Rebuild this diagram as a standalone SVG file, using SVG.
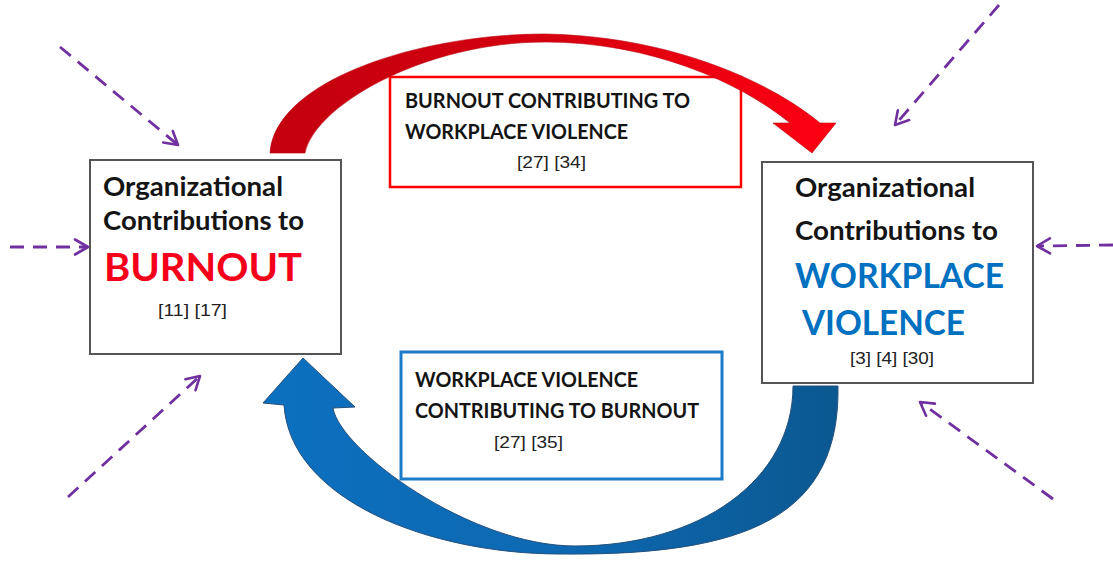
<svg xmlns="http://www.w3.org/2000/svg" width="1113" height="561" viewBox="0 0 1113 561">
  <defs>
    <linearGradient id="redGrad" gradientUnits="userSpaceOnUse" x1="270" y1="0" x2="840" y2="0">
      <stop offset="0" stop-color="#c3000f"/>
      <stop offset="0.5" stop-color="#d6000f"/>
      <stop offset="1" stop-color="#ff0012"/>
    </linearGradient>
    <linearGradient id="blueGrad" gradientUnits="userSpaceOnUse" x1="263" y1="0" x2="840" y2="0">
      <stop offset="0" stop-color="#0c70c0"/>
      <stop offset="0.55" stop-color="#0d68b0"/>
      <stop offset="1" stop-color="#0b5890"/>
    </linearGradient>
    <marker id="chev" markerUnits="userSpaceOnUse" viewBox="0 0 18 18" markerWidth="18" markerHeight="18" refX="15" refY="9" orient="auto">
      <path d="M2,1.5 L15,9 L2,16.5" fill="none" stroke="#7030a0" stroke-width="2.6" stroke-linecap="round" stroke-linejoin="round"/>
    </marker>
  </defs>
  <style>
    .box{fill:#fff;stroke:#555;stroke-width:2}
    .title{font-family:Lato,'Liberation Sans',sans-serif;font-weight:bold;fill:#141414;font-size:26.5px}
    .big{font-family:Lato,'Liberation Sans',sans-serif;font-weight:bold}
    .label{font-family:Lato,'Liberation Sans',sans-serif;font-weight:bold;fill:#141414;font-size:20.5px}
    .ref{font-family:'Liberation Sans',Arial,sans-serif;fill:#222;font-size:16.5px}
    .influence{fill:none;stroke:#7030a0;stroke-width:2.8;stroke-dasharray:14 9;marker-end:url(#chev)}
  </style>

  <rect width="1113" height="561" fill="#fff"/>

  <!-- burnout node -->
  <g id="burnout">
    <rect class="box" x="90" y="160" width="251" height="194"/>
    <text class="title" x="103" y="196" textLength="180" lengthAdjust="spacingAndGlyphs">Organizational</text>
    <text class="title" x="103" y="230" textLength="201" lengthAdjust="spacingAndGlyphs">Contributions to</text>
    <text class="big" x="104" y="281" font-size="37.5" fill="#f5001a" textLength="198" lengthAdjust="spacingAndGlyphs">BURNOUT</text>
    <text class="ref" x="158" y="316" textLength="69" lengthAdjust="spacingAndGlyphs">[11] [17]</text>
  </g>

  <!-- workplace violence node -->
  <g id="violence">
    <rect class="box" x="762" y="162" width="271" height="221"/>
    <text class="title" x="795" y="197" textLength="180" lengthAdjust="spacingAndGlyphs">Organizational</text>
    <text class="title" x="795" y="240" textLength="203" lengthAdjust="spacingAndGlyphs">Contributions to</text>
    <text class="big" x="795" y="288" font-size="35" fill="#0070c0" textLength="209" lengthAdjust="spacingAndGlyphs">WORKPLACE</text>
    <text class="big" x="802" y="335" font-size="34" fill="#0070c0" textLength="163" lengthAdjust="spacingAndGlyphs">VIOLENCE</text>
    <text class="ref" x="850" y="364" textLength="84" lengthAdjust="spacingAndGlyphs">[3] [4] [30]</text>
  </g>

  <!-- label: burnout feeding violence -->
  <g id="burnout-to-violence">
    <rect x="390" y="77" width="351" height="110" fill="#fff" stroke="#ff0000" stroke-width="2.5"/>
    <text class="label" x="405" y="108" textLength="285" lengthAdjust="spacingAndGlyphs">BURNOUT CONTRIBUTING TO</text>
    <text class="label" x="405" y="139" textLength="223" lengthAdjust="spacingAndGlyphs">WORKPLACE VIOLENCE</text>
    <text class="ref" x="517" y="168" textLength="69" lengthAdjust="spacingAndGlyphs">[27] [34]</text>
  </g>

  <!-- label: violence feeding burnout -->
  <g id="violence-to-burnout">
    <rect x="401" y="352" width="321" height="127" fill="#fff" stroke="#1a7bc9" stroke-width="3"/>
    <text class="label" x="415" y="387" textLength="223" lengthAdjust="spacingAndGlyphs">WORKPLACE VIOLENCE</text>
    <text class="label" x="415" y="418" textLength="284" lengthAdjust="spacingAndGlyphs">CONTRIBUTING TO BURNOUT</text>
    <text class="ref" x="494" y="448" textLength="69" lengthAdjust="spacingAndGlyphs">[27] [35]</text>
  </g>

  <!-- connectors -->
  <g id="connectors">
    <!-- burnout -> violence (curved block arrow over the top) -->
    <path d="M270,153 C275,80 420,34 545,34 C665,36 765,78 820,123 L836,123 L812,153 L773,123 L790,123 C740,82 650,42 545,42 C425,42 315,105 305,153 Z"
          fill="url(#redGrad)" stroke="#b8000e" stroke-width="0.6"/>
    <!-- violence -> burnout (curved block arrow under the bottom) -->
    <path d="M838,386 C840,515 750,556 560,554 C430,554 290,500 284,405 L263,403 L303,358 L355,407 L333,408 C340,450 470,546 575,546 C700,546 793,480 793,386 Z"
          fill="url(#blueGrad)" stroke="#24507c" stroke-width="1"/>

    <!-- outside influences on burnout -->
    <line class="influence" x1="60" y1="47" x2="178" y2="145"/>
    <line class="influence" x1="10" y1="247" x2="88" y2="247"/>
    <line class="influence" x1="68" y1="497" x2="200" y2="376"/>
    <!-- outside influences on workplace violence -->
    <line class="influence" x1="999" y1="5" x2="895" y2="125"/>
    <line class="influence" x1="1113" y1="245" x2="1037" y2="246"/>
    <line class="influence" x1="1053" y1="499" x2="920" y2="402"/>
  </g>
</svg>
